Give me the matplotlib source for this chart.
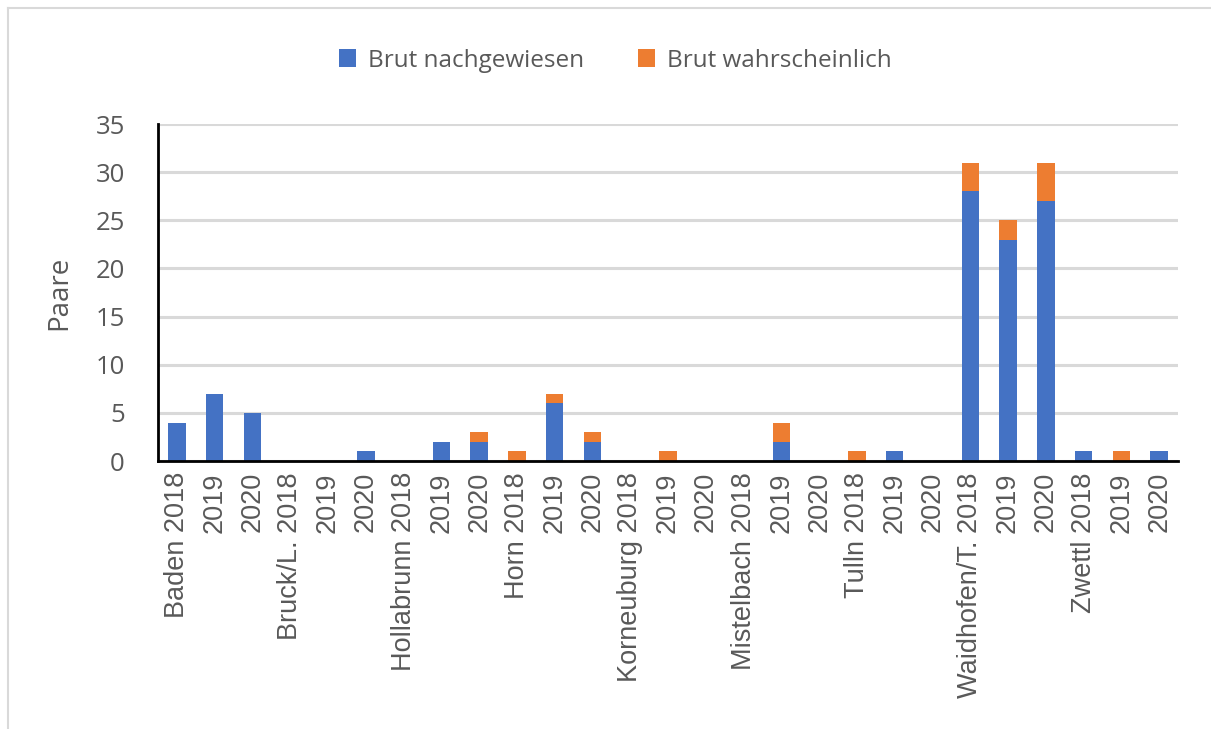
import numpy as np
import matplotlib
matplotlib.use('Agg')
import matplotlib.pyplot as plt
from matplotlib.lines import Line2D

# Districts and years
bezirke = ['Baden', 'Bruck/L.', 'Hollabrunn', 'Horn', 'Korneuburg',
           'Mistelbach', 'Tulln', 'Waidhofen/T.', 'Zwettl']
jahre = ['2018', '2019', '2020']

# Pairs per district and year (2018, 2019, 2020)
nachgewiesen = [4, 7, 5,
                0, 0, 1,
                0, 2, 2,
                0, 6, 2,
                0, 0, 0,
                0, 2, 0,
                0, 1, 0,
                28, 23, 27,
                1, 0, 1]
wahrscheinlich = [0, 0, 0,
                  0, 0, 0,
                  0, 0, 1,
                  1, 1, 1,
                  0, 1, 0,
                  0, 2, 0,
                  1, 0, 0,
                  3, 2, 4,
                  0, 1, 0]

labels = []
for b in bezirke:
    for j in jahre:
        labels.append(f'{b} {j}' if j == jahre[0] else j)

blue = '#4472C4'
orange = '#ED7D31'
grey = '#595959'

fig = plt.figure(figsize=(12.11, 7.29), dpi=100)
ax = fig.add_axes([0.1305, 0.3676, 0.8423, 0.4623])

x = np.arange(len(labels))
ax.bar(x, nachgewiesen, width=0.46, color=blue, linewidth=0,
       label='Brut nachgewiesen', zorder=3)
ax.bar(x, wahrscheinlich, width=0.46, bottom=nachgewiesen, color=orange,
       linewidth=0, label='Brut wahrscheinlich', zorder=3)

ax.set_xlim(-0.5, len(labels) - 0.5)
ax.set_ylim(0, 35)
ax.set_yticks(range(0, 36, 5))
ax.yaxis.grid(True, color='#D9D9D9', linewidth=2.2, zorder=0)
ax.set_axisbelow(True)

for s in ['top', 'right']:
    ax.spines[s].set_visible(False)
for s in ['left', 'bottom']:
    ax.spines[s].set_linewidth(2)
    ax.spines[s].set_color('black')
    ax.spines[s].set_zorder(4)

ax.set_xticks(x)
ax.set_xticklabels(labels, rotation=90, fontsize=19.5, color=grey,
                   family='Liberation Sans')
ax.tick_params(axis='both', length=0)
ax.tick_params(axis='x', pad=8)
ax.tick_params(axis='y', pad=24)
for t in ax.get_yticklabels():
    t.set_fontfamily('Open Sans')
    t.set_fontsize(18.5)
    t.set_color(grey)

ax.set_ylabel('Paare', fontsize=20, color=grey, family='Open Sans', labelpad=16)

fig.legend(loc='center', bbox_to_anchor=(0.508, 0.917), ncol=2, frameon=False,
           prop={'family': 'Open Sans', 'size': 17.5}, labelcolor=grey,
           handlelength=0.7, handleheight=0.7, handletextpad=0.5,
           columnspacing=2.2)

# outer chart frame
fig.add_artist(Line2D([0.007, 0.007], [0.0, 0.989], color='#D9D9D9', linewidth=1.5))
fig.add_artist(Line2D([0.007, 1.0], [0.989, 0.989], color='#D9D9D9', linewidth=1.5))

plt.savefig('out.png', dpi=100)
